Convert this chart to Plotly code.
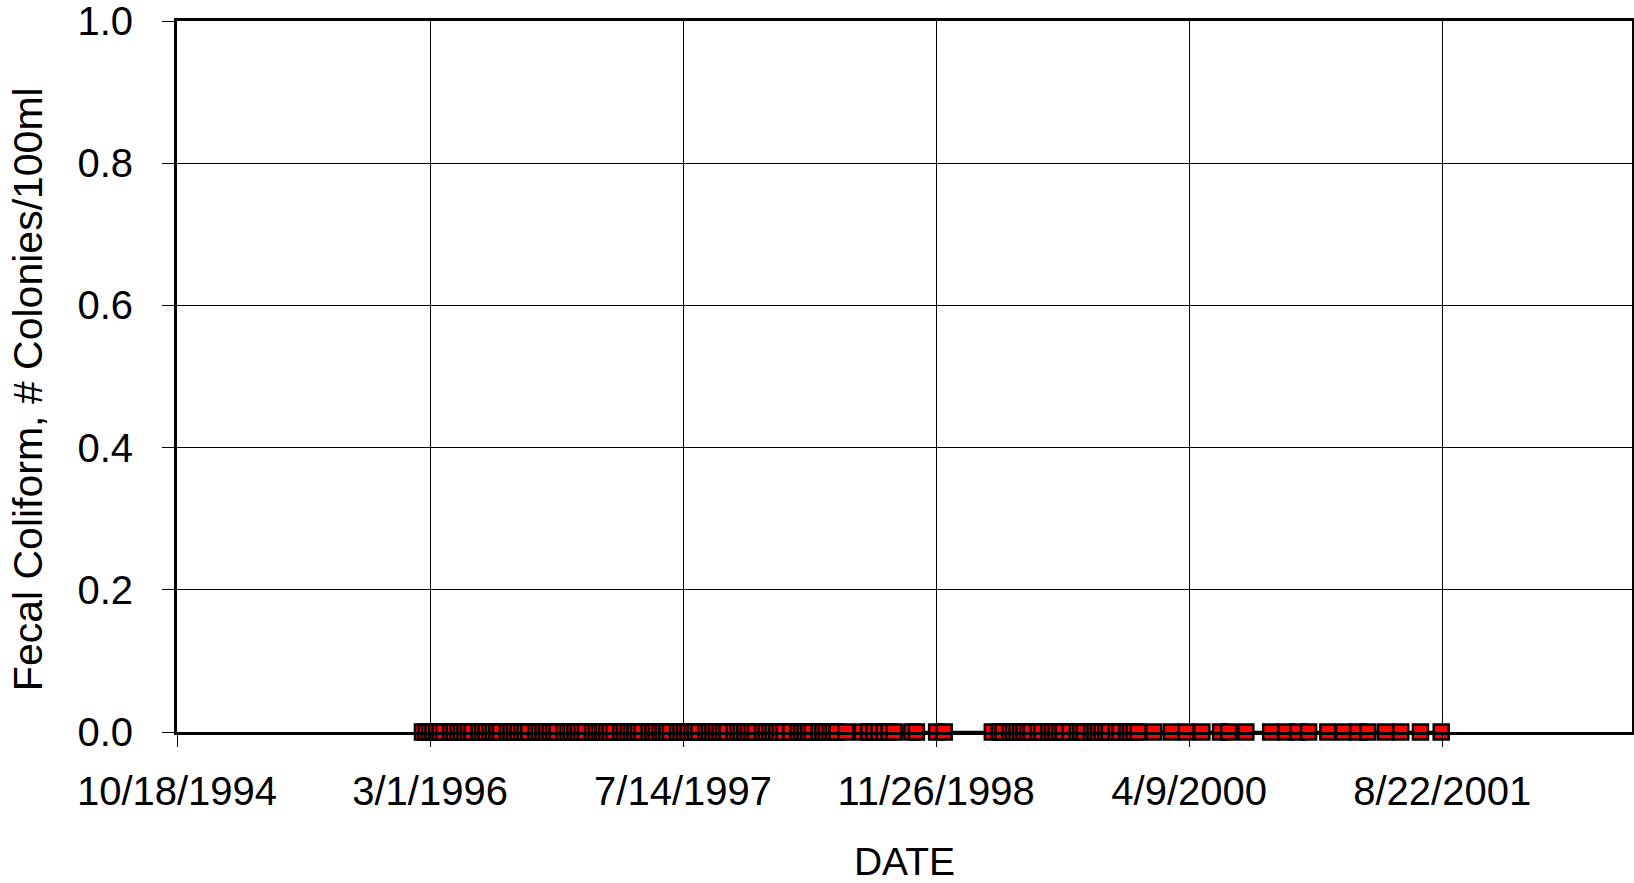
import plotly.graph_objects as go

# Sample dates (all results were 0 colonies/100ml)
dates_1996 = [
    "1996-02-15", "1996-02-22", "1996-02-29", "1996-03-07", "1996-03-14", "1996-03-21", "1996-03-28",
    "1996-04-11", "1996-04-18", "1996-04-25", "1996-05-02", "1996-05-09", "1996-05-16", "1996-05-23",
    "1996-06-06", "1996-06-13", "1996-06-20", "1996-06-27", "1996-07-04", "1996-07-11", "1996-07-18",
    "1996-08-01", "1996-08-08", "1996-08-15", "1996-08-22", "1996-08-29", "1996-09-05", "1996-09-12",
    "1996-09-26", "1996-10-03", "1996-10-10", "1996-10-17", "1996-10-24", "1996-10-31", "1996-11-07",
    "1996-11-21", "1996-11-28", "1996-12-05", "1996-12-12", "1996-12-19", "1996-12-26",
]
dates_1997 = [
    "1997-01-02",
    "1997-01-16", "1997-01-23", "1997-01-30", "1997-02-06", "1997-02-13", "1997-02-20", "1997-02-27",
    "1997-03-13", "1997-03-20", "1997-03-27", "1997-04-03", "1997-04-10", "1997-04-17", "1997-04-24",
    "1997-05-08", "1997-05-15", "1997-05-22", "1997-05-29", "1997-06-05", "1997-06-12", "1997-06-19",
    "1997-07-03", "1997-07-10", "1997-07-17", "1997-07-24", "1997-07-31", "1997-08-07", "1997-08-14",
    "1997-08-28", "1997-09-04", "1997-09-11", "1997-09-18", "1997-09-25", "1997-10-02", "1997-10-09",
    "1997-10-23", "1997-10-30", "1997-11-06", "1997-11-13", "1997-11-20", "1997-11-27", "1997-12-04",
    "1997-12-18", "1997-12-25",
]
dates_1998 = [
    "1998-01-01", "1998-01-08", "1998-01-15", "1998-01-22", "1998-01-29",
    "1998-02-12",
    "1998-02-26", "1998-03-05", "1998-03-12", "1998-03-19", "1998-03-26",
    "1998-04-09", "1998-04-16", "1998-04-23", "1998-04-30", "1998-05-07", "1998-05-14",
    "1998-06-01", "1998-07-03", "1998-07-16", "1998-07-26", "1998-08-05", "1998-08-15",
    "1998-08-25", "1998-09-04", "1998-10-09", "1998-10-18", "1998-11-27", "1998-12-12",
]
dates_1999 = [
    "1999-03-17", "1999-03-31", "1999-04-07",
    "1999-04-21", "1999-04-28", "1999-05-05", "1999-05-12", "1999-05-19", "1999-05-26", "1999-06-02",
    "1999-06-16", "1999-06-23",
    "1999-07-07", "1999-07-14", "1999-07-21", "1999-07-28", "1999-08-04",
    "1999-08-18",
    "1999-09-01", "1999-09-08", "1999-09-15",
    "1999-09-29", "1999-10-06", "1999-10-13", "1999-10-20", "1999-10-27", "1999-11-03",
    "1999-11-17", "1999-11-24",
    "1999-12-08", "1999-12-15", "1999-12-22", "1999-12-30",
]
dates_2000_2001 = [
    "2000-01-30", "2000-03-05", "2000-04-03", "2000-05-04", "2000-06-10", "2000-06-26",
    "2000-07-30", "2000-09-17", "2000-10-17", "2000-11-10", "2000-12-01",
    "2001-01-08", "2001-02-08", "2001-03-08", "2001-03-28", "2001-05-02", "2001-06-01",
    "2001-07-10", "2001-08-20",
]
sample_dates = dates_1996 + dates_1997 + dates_1998 + dates_1999 + dates_2000_2001
fecal_coliform = [0.0] * len(sample_dates)

x_tick_vals = ["1994-10-18", "1996-03-01", "1997-07-14", "1998-11-26", "2000-04-09", "2001-08-22"]
x_tick_text = ["10/18/1994", "3/1/1996", "7/14/1997", "11/26/1998", "4/9/2000", "8/22/2001"]
x_range = ["1994-10-18", "2002-09-01"]
y_tick_vals = [0.0, 0.2, 0.4, 0.6, 0.8, 1.0]
y_tick_text = ["0.0", "0.2", "0.4", "0.6", "0.8", "1.0"]
y_title = "Fecal Coliform, # Colonies/100ml"

FONT = "Arial, Liberation Sans, sans-serif"

fig = go.Figure()
fig.add_trace(go.Scatter(
    x=sample_dates, y=fecal_coliform, mode="lines+markers",
    line=dict(color="black", width=2.5),
    marker=dict(symbol="square", size=15, color="#FF0000", line=dict(color="black", width=2.5)),
    cliponaxis=False, showlegend=False,
))

fig.update_layout(
    width=1634, height=883,
    margin=dict(l=177, r=2, t=21, b=151, autoexpand=False),
    paper_bgcolor="white", plot_bgcolor="white",
    font=dict(family=FONT, color="black", size=40),
)
fig.update_xaxes(
    type="date", range=x_range, automargin=False,
    tickmode="array", tickvals=x_tick_vals, ticktext=x_tick_text,
    tickfont=dict(size=40, family=FONT),
    ticks="outside", ticklen=12, tickwidth=1, tickcolor="black",
    ticklabelstandoff=10, ticklabeloverflow="allow",
    showgrid=True, gridcolor="black", gridwidth=1,
    showline=True, linecolor="black", linewidth=3, mirror=True,
    zeroline=False,
    title=dict(text="DATE", font=dict(size=39, family=FONT), standoff=42),
)
fig.update_yaxes(
    range=[0, 1], automargin=False,
    tickmode="array", tickvals=y_tick_vals, ticktext=y_tick_text,
    tickfont=dict(size=40, family=FONT),
    ticks="outside", ticklen=12, tickwidth=1, tickcolor="black",
    ticklabelstandoff=21, ticklabeloverflow="allow",
    showgrid=True, gridcolor="black", gridwidth=1,
    showline=True, linecolor="black", linewidth=3, mirror=True,
    zeroline=False,
)
fig.add_annotation(
    text=y_title, textangle=-90, showarrow=False,
    xref="paper", yref="paper", x=-0.1025, y=0.482,
    xanchor="center", yanchor="middle",
    font=dict(size=41, family=FONT, color="black"),
)

fig.write_html(
    "out.html",
    config={"displayModeBar": False},
    post_script="document.body.style.margin='0';document.body.style.overflow='hidden';"
                "document.documentElement.style.overflow='hidden';",
)
